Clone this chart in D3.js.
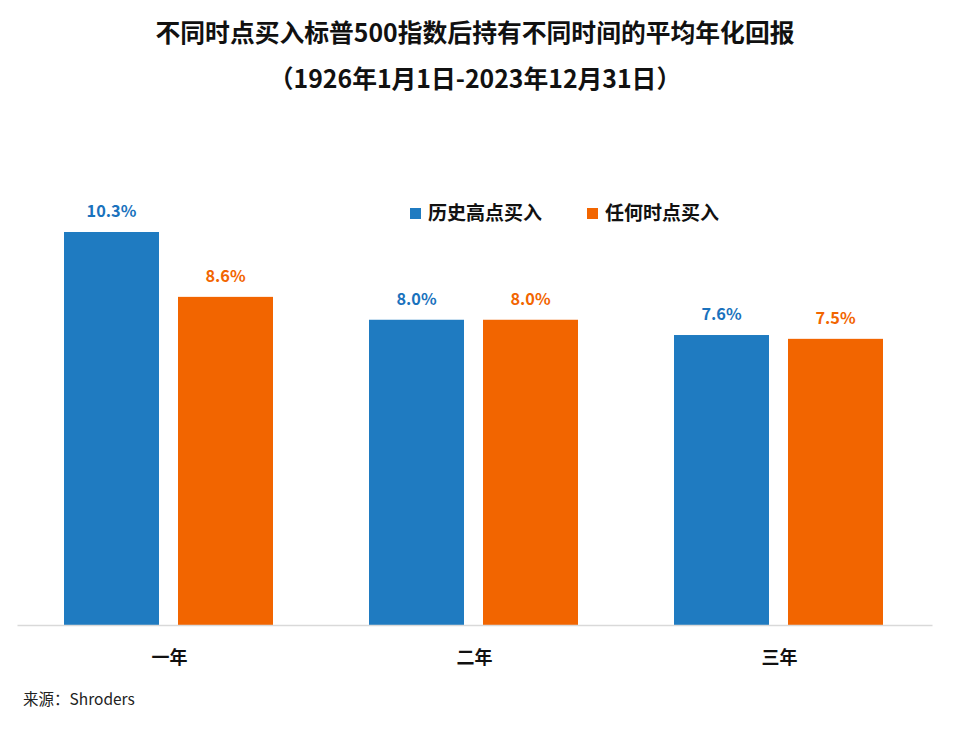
<!DOCTYPE html>
<html><head><meta charset="utf-8">
<script src="https://cdn.jsdelivr.net/npm/d3@7/dist/d3.min.js"></script>
<style>body{margin:0;background:#fff;} svg{display:block;font-family:"Noto Sans CJK SC","Noto Sans",sans-serif;}</style>
</head><body>
<svg id="c" width="954" height="731"></svg>
<script>
const categories = ["一年", "二年", "三年"];
const seriesNames = ["历史高点买入", "任何时点买入"];
const peakValues = [10.3, 8.0, 7.6];
const anyValues = [8.6, 8.0, 7.5];
const titleLines = ["不同时点买入标普500指数后持有不同时间的平均年化回报", "（1926年1月1日-2023年12月31日）"];
const sourceText = "来源：Shroders";

const colors = ["#1f7bc1", "#f26500"];
const labelColors = ["#1a72bd", "#f26500"];
const svg = d3.select("#c");

const x0 = d3.scaleBand().domain(categories).range([17, 932]).paddingInner(0).paddingOuter(0);
const x1 = d3.scaleBand().domain(seriesNames).range([47, 256]).paddingInner(1 / 6);
const y = d3.scaleLinear().domain([0, 10.3]).range([625, 232]);

const series = [peakValues, anyValues];
const data = categories.map((c, i) => ({cat: c, vals: seriesNames.map((s, j) => ({s, j, v: series[j][i]}))}));

// title
svg.selectAll("text.title").data(titleLines).join("text")
  .attr("x", 475).attr("y", (d, i) => 42 + i * 46)
  .attr("text-anchor", "middle").attr("font-size", 24.8).attr("font-weight", 700).attr("fill", "#111")
  .text(d => d);

const g = svg.selectAll("g.grp").data(data).join("g").attr("transform", d => `translate(${x0(d.cat)},0)`);
g.selectAll("rect").data(d => d.vals).join("rect")
  .attr("x", d => x1(d.s)).attr("width", x1.bandwidth())
  .attr("y", d => y(d.v)).attr("height", d => y(0) - y(d.v))
  .attr("fill", d => colors[d.j]);
g.selectAll("text.val").data(d => d.vals).join("text").attr("class", "val")
  .attr("x", d => x1(d.s) + x1.bandwidth() / 2).attr("y", d => y(d.v) - 15)
  .attr("text-anchor", "middle").attr("font-size", 16.3).attr("font-weight", 700)
  .attr("fill", d => labelColors[d.j]).text(d => d.v.toFixed(1) + "%");

// axis
const ax = svg.append("g").attr("transform", `translate(0,${y(0)})`)
  .call(d3.axisBottom(x0).tickSize(0).tickPadding(26));
ax.select(".domain").attr("stroke", "#d9d9d9").attr("stroke-width", 1.5);
ax.selectAll("text").attr("font-size", 18).attr("font-weight", 700).attr("fill", "#111")
  .attr("font-family", '"Noto Sans CJK SC",sans-serif');

// legend
const legX = [410, 587];
const lg = svg.selectAll("g.leg").data(seriesNames).join("g").attr("transform", (d, i) => `translate(${legX[i]},208)`);
lg.append("rect").attr("width", 11).attr("height", 11).attr("fill", (d, i) => colors[i]);
lg.append("text").attr("x", 18).attr("y", 12).attr("font-size", 19).attr("font-weight", 700).attr("fill", "#111").text(d => d);

svg.append("text").attr("x", 23).attr("y", 705).attr("font-size", 15.5).attr("fill", "#222").text(sourceText);
</script>
</body></html>
